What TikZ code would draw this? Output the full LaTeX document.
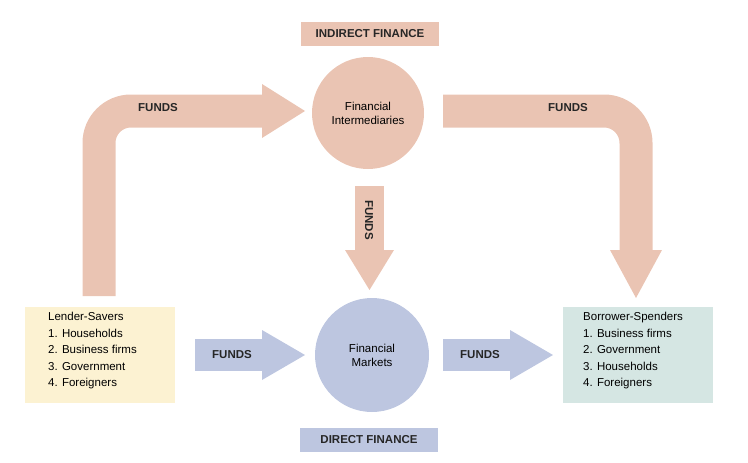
\documentclass[tikz,border=0pt]{standalone}
\usepackage{fontspec}
\setmainfont{Liberation Sans}
\usepackage{tikz}
\definecolor{pinkfund}{HTML}{EAC4B3}
\definecolor{bluefund}{HTML}{BDC6E0}
\definecolor{lendfill}{HTML}{FCF2D2}
\definecolor{borrfill}{HTML}{D5E6E3}
\tikzstyle{label}=[font=\fontsize{11.5}{14}\selectfont\bfseries,text=black!85]
\tikzstyle{tag}=[label,minimum width=138pt,minimum height=24pt,inner sep=0pt]
\tikzstyle{circ}=[circle,minimum size=112pt,inner sep=0pt,align=center,font=\fontsize{11.5}{14}\selectfont]
\tikzstyle{party}=[minimum width=150pt,minimum height=96pt,inner sep=0pt]
\tikzstyle{list}=[align=left,anchor=north west,inner sep=0pt,font=\fontsize{11.5}{16.5}\selectfont]

\begin{document}
\begin{tikzpicture}[x=1pt,y=-1pt]
        \useasboundingbox (0,0) rectangle (748,463);
        % labels
        \node[tag,fill=pinkfund] (ind) at (370,34) {INDIRECT FINANCE};
        \node[tag,fill=bluefund] (dir) at (369,440) {DIRECT FINANCE};
        % circles
        \node[circ,fill=pinkfund] (fi) at (368,113) {Financial\\Intermediaries};
        \node[circ,fill=bluefund,minimum size=114pt] (fm) at (372,355) {Financial\\Markets};
        % boxes
        \node[party,fill=lendfill] (ls) at (100,355) {};
        \node[party,fill=borrfill] (bs) at (638,355) {};
        \node[list] (lst) at (48,312) {Lender-Savers\\1. Households\\2. Business firms\\3. Government\\4. Foreigners};
        \node[list] (bst) at (583,312) {Borrower-Spenders\\1. Business firms\\2. Government\\3. Households\\4. Foreigners};
        % indirect funds arrows
        \draw[pinkfund,line width=33pt,rounded corners=32pt] (99,296) -- (99,111) -- (263,111);
        \fill[pinkfund] (262,84) -- (305,111) -- (262,138) -- cycle;
        \draw[pinkfund,line width=33pt,rounded corners=32pt] (443,111) -- (636,111) -- (636,251);
        \fill[pinkfund] (610,250) -- (636,298) -- (662,250) -- cycle;
        \fill[pinkfund] (355,186) rectangle (384,251);
        \fill[pinkfund] (345,250) -- (369.5,290) -- (394,250) -- cycle;
        % direct funds arrows
        \fill[bluefund] (195,339) rectangle (263,371);
        \fill[bluefund] (262,330) -- (305,355) -- (262,380) -- cycle;
        \fill[bluefund] (443,339) rectangle (511,371);
        \fill[bluefund] (510,330) -- (553,355) -- (510,380) -- cycle;
        % funds labels
        \node[label] (f1) at (158,108) {FUNDS};
        \node[label] (f2) at (568,108) {FUNDS};
        \node[label,rotate=-90] (f3) at (369,220) {FUNDS};
        \node[label] (f4) at (232,355) {FUNDS};
        \node[label] (f5) at (480,355) {FUNDS};
      \end{tikzpicture}
\end{document}
